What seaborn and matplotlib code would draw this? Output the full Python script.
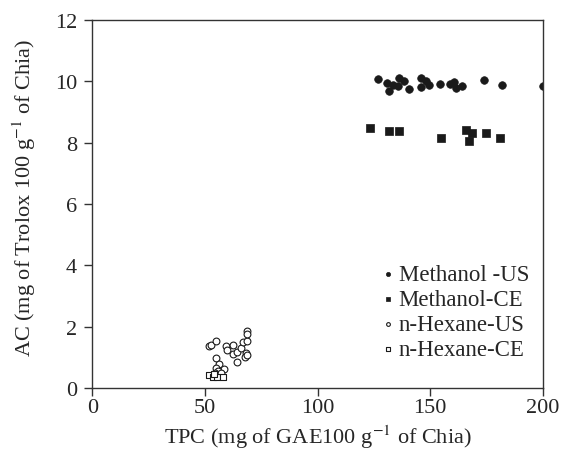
import matplotlib
matplotlib.use("Agg")
import matplotlib.pyplot as plt
import seaborn as sns
import pandas as pd

# TPC (x) and AC (y) values
meth_us_x = [126.8, 130.9, 131.9, 133.7, 136.1, 135.6, 138.4, 140.7, 145.9, 145.9,
             148.1, 149.4, 154.4, 159.0, 160.7, 161.4, 164.2, 174.0, 181.7, 200.0]
meth_us_y = [10.07, 9.93, 9.67, 9.89, 10.12, 9.85, 10.00, 9.76, 10.10, 9.81,
             10.00, 9.88, 9.90, 9.90, 9.98, 9.78, 9.85, 10.03, 9.88, 9.85]

meth_ce_x = [123.3, 131.9, 136.1, 154.9, 166.0, 168.7, 167.3, 174.8, 181.1]
meth_ce_y = [8.46, 8.38, 8.38, 8.14, 8.41, 8.30, 8.04, 8.30, 8.14]

hex_us_x = [51.8, 52.8, 54.7, 59.5, 59.8, 62.4, 62.4, 64.1, 64.1, 66.0, 67.0, 68.5,
            68.5, 68.5, 68.2, 67.8, 68.5, 55.0, 56.4, 54.9, 58.4, 55.6, 54.4, 57.1]
hex_us_y = [1.38, 1.40, 1.53, 1.38, 1.24, 1.42, 1.11, 1.18, 0.84, 1.30, 1.49, 1.53,
            1.85, 1.78, 1.16, 1.00, 1.07, 0.98, 0.80, 0.66, 0.62, 0.56, 0.51, 0.51]

hex_ce_x = [51.6, 53.4, 55.5, 57.9, 54.0]
hex_ce_y = [0.42, 0.35, 0.35, 0.35, 0.45]

groups = ["Methanol -US", "Methanol-CE", "n-Hexane-US", "n-Hexane-CE"]

df = pd.concat([
    pd.DataFrame({"TPC": meth_us_x, "AC": meth_us_y, "Group": groups[0]}),
    pd.DataFrame({"TPC": meth_ce_x, "AC": meth_ce_y, "Group": groups[1]}),
    pd.DataFrame({"TPC": hex_us_x, "AC": hex_us_y, "Group": groups[2]}),
    pd.DataFrame({"TPC": hex_ce_x, "AC": hex_ce_y, "Group": groups[3]}),
])

sns.set_style("ticks")
plt.rcParams['font.family'] = ['Liberation Serif', 'DejaVu Serif']
plt.rcParams['mathtext.fontset'] = 'stix'

fig = plt.figure(figsize=(5.63, 4.52), dpi=100)
ax = fig.add_axes([0.164, 0.139, 0.8, 0.815])

styles = {
    groups[0]: dict(marker='o', color='#1a1a1a', edgecolor='#1a1a1a', s=30, linewidth=0.5),
    groups[1]: dict(marker='s', color='#1a1a1a', edgecolor='#1a1a1a', s=30, linewidth=0.5),
    groups[2]: dict(marker='o', color='white', edgecolor='#1a1a1a', s=24, linewidth=0.8),
    groups[3]: dict(marker='s', color='white', edgecolor='#1a1a1a', s=24, linewidth=0.8),
}
for g in groups:
    sns.scatterplot(data=df[df["Group"] == g], x="TPC", y="AC", ax=ax, label=g, **styles[g])

ax.set_xlim(0, 200)
ax.set_ylim(0, 12)
ax.set_xticks([0, 50, 100, 150, 200])
ax.set_yticks([0, 2, 4, 6, 8, 10, 12])
ax.set_xlabel(r"TPC (mg of GAE100 g$^{-1}$ of Chia)", fontsize=16, labelpad=4)
ax.set_ylabel(r"AC (mg of Trolox 100 g$^{-1}$ of Chia)", fontsize=16, labelpad=10)
ax.yaxis.set_label_coords(-0.12, 0.52)
ax.tick_params(labelsize=16, length=6, width=1, color='#333333', direction='out')
ax.tick_params(axis='y', pad=5)
ax.tick_params(axis='x', pad=1)
for sp in ax.spines.values():
    sp.set_color('#333333')
    sp.set_linewidth(1.0)

leg = ax.legend(loc='lower right', bbox_to_anchor=(1.0, 0.04), frameon=False, fontsize=16.5,
                handlelength=0.6, handletextpad=0.15, markerscale=0.55, labelspacing=0.17,
                borderaxespad=0.2)

fig.savefig("out.png", dpi=100)
